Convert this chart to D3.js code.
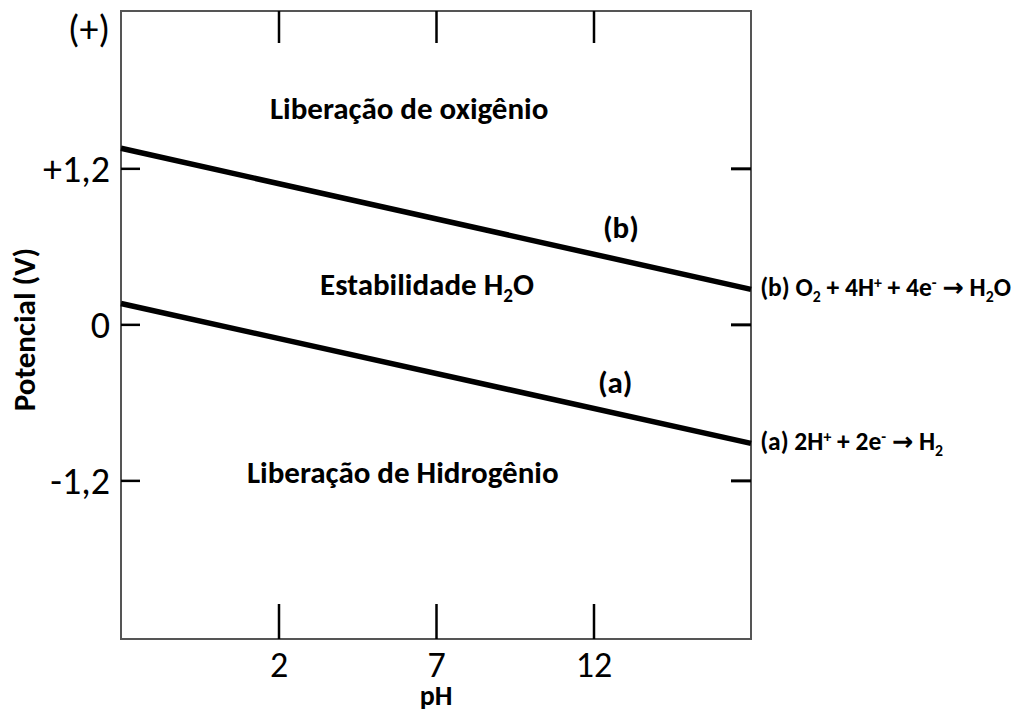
<!DOCTYPE html>
<html>
<head>
<meta charset="utf-8">
<script src="https://cdn.jsdelivr.net/npm/d3@7"></script>
<style>
  body { margin: 0; background: #fff; }
  svg { display: block; font-family: Carlito, Lato, "Open Sans", sans-serif; }
</style>
</head>
<body>
<div id="chart"></div>
<script>
// pH ticks and potential ticks
const phTicks = [2, 7, 12];
const phTickLabels = ["2", "7", "12"];
const vTicks = [1.2, 0, -1.2];
const vTickLabels = ["+1,2", "0", "-1,2"];

// lines (a) and (b): [pH, potential]
const lineA = [[-3, 0.16], [17, -0.915]];
const lineB = [[-3, 1.354], [17, 0.269]];

const width = 1027, height = 713;
const margin = { top: 11, right: 276, bottom: 74, left: 121 };

const x = d3.scaleLinear().domain([-3, 17]).range([margin.left, width - margin.right]);
const y = d3.scaleLinear().domain([-2.42, 2.41]).range([height - margin.bottom, margin.top]);

const svg = d3.select("#chart").append("svg")
  .attr("width", width).attr("height", height);

// frame
svg.append("rect")
  .attr("x", x.range()[0]).attr("y", y.range()[1])
  .attr("width", x.range()[1] - x.range()[0])
  .attr("height", y.range()[0] - y.range()[1])
  .attr("fill", "none").attr("stroke", "#555").attr("stroke-width", 2);

function styleAxis(g, tickWidth) {
  g.attr("font-family", null).attr("font-size", null);
  g.select(".domain").remove();
  g.selectAll("line").attr("stroke", "#000").attr("stroke-width", tickWidth);
  g.selectAll("text").attr("font-size", 38).attr("fill", "#000");
}

// inward ticks
const xBottom = d3.axisBottom(x).tickValues(phTicks).tickSizeInner(-35).tickSizeOuter(0)
  .tickFormat((d, i) => phTickLabels[i]).tickPadding(38);
const gxb = svg.append("g").attr("transform", `translate(0,${y.range()[0]})`).call(xBottom);
styleAxis(gxb, 2.5);
gxb.selectAll("text").attr("dy", 0).attr("font-size", 36);

const xTop = d3.axisTop(x).tickValues(phTicks).tickSizeInner(-32).tickSizeOuter(0).tickFormat("");
const gxt = svg.append("g").attr("transform", `translate(0,${y.range()[1]})`).call(xTop);
styleAxis(gxt, 2.5);

const yLeft = d3.axisLeft(y).tickValues(vTicks).tickSizeInner(-19).tickSizeOuter(0)
  .tickFormat((d, i) => vTickLabels[i]).tickPadding(11);
const gyl = svg.append("g").attr("transform", `translate(${x.range()[0]},0)`).call(yLeft);
styleAxis(gyl, 2.5);
gyl.selectAll("text").attr("dy", "0.34em");

const yRight = d3.axisRight(y).tickValues(vTicks).tickSizeInner(-20).tickSizeOuter(0).tickFormat("");
const gyr = svg.append("g").attr("transform", `translate(${x.range()[1]},0)`).call(yRight);
styleAxis(gyr, 3);

// (+) marker at top of potential axis
svg.append("text")
  .attr("x", x.range()[0] - 11).attr("y", y(2.25))
  .attr("dy", "0.27em").attr("text-anchor", "end")
  .attr("font-size", 38).text("(+)");

// axis titles
svg.append("text")
  .attr("transform", `translate(35,${y(-0.04)}) rotate(-90)`)
  .attr("text-anchor", "middle").attr("font-weight", "bold").attr("font-size", 31)
  .text("Potencial (V)");
svg.append("text")
  .attr("x", x(7)).attr("y", 705)
  .attr("text-anchor", "middle").attr("font-weight", "bold").attr("font-size", 28)
  .text("pH");

// equilibrium lines
const line = d3.line().x(d => x(d[0])).y(d => y(d[1]));
[lineA, lineB].forEach(data => {
  svg.append("path").attr("d", line(data))
    .attr("fill", "none").attr("stroke", "#000").attr("stroke-width", 5.5);
});

// rich text: parts as [text, "sub" | "sup" | "arrow" | undefined]
function region(px, pv, parts, size) {
  const t = svg.append("text")
    .attr("x", x(px)).attr("y", y(pv))
    .attr("font-weight", "bold").attr("font-size", size);
  let shift = 0;
  parts.forEach(([s, kind]) => {
    const target = kind === "sub" ? size * 0.22 : kind === "sup" ? -size * 0.32 : 0;
    const sp = t.append("tspan")
      .attr("dy", target - shift)
      .attr("font-size", kind === "sub" || kind === "sup" ? size * 0.62 : size)
      .text(s);
    if (kind === "arrow") sp.attr("font-family", "DejaVu Sans").attr("font-size", size);
    shift = target;
  });
}

const fs = 31;
region(1.73, 1.58, [["Liberação de oxigênio"]], fs);
region(3.32, 0.226, [["Estabilidade H"], ["2", "sub"], ["O"]], fs);
region(1.0, -1.22, [["Liberação de Hidrogênio"]], fs);
region(12.3, 0.665, [["(b)"]], fs);
region(12.14, -0.53, [["(a)"]], fs);

// reaction labels to the right of the frame
const rs = 25.5;
region(17.29, 0.218, [["(b) O"], ["2", "sub"], [" + 4H"], ["+", "sup"], [" + 4e"], ["-", "sup"], [" "], ["\u2192", "arrow"], [" H"], ["2", "sub"], ["O"]], rs);
region(17.29, -0.966, [["(a) 2H"], ["+", "sup"], [" + 2e"], ["-", "sup"], [" "], ["\u2192", "arrow"], [" H"], ["2", "sub"]], rs);
</script>
</body>
</html>
